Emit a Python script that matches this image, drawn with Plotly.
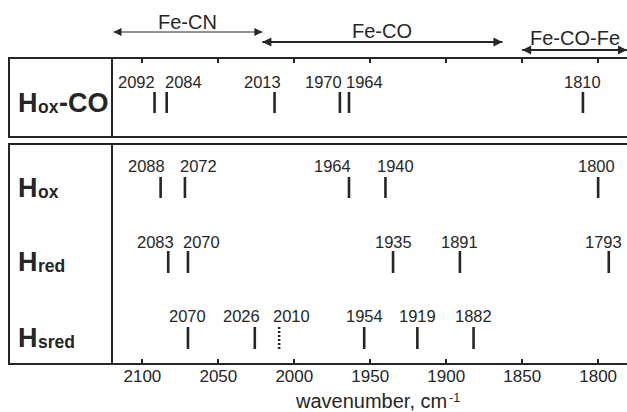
import plotly.graph_objects as go

# ---------------- data ----------------
hoxco_peaks = [2092, 2084, 2013, 1970, 1964, 1810]
hox_peaks = [2088, 2072, 1964, 1940, 1800]
hred_peaks = [2083, 2070, 1935, 1891, 1793]
hsred_peaks = [2070, 2026, 2010, 1954, 1919, 1882]
hsred_tentative = [False, False, True, False, False, False]

region_names = ["Fe-CN", "Fe-CO", "Fe-CO-Fe"]
region_start = [2119, 2021, 1850]
region_end = [2021, 1863, 1781]

tick_values = [2100, 2050, 2000, 1950, 1900, 1850, 1800]
x_range = [2120, 1781]

# ---------------- layout constants ----------------
W, H = 627, 412
ML, MR, MT, MB = 112, 0, 0, 48
PW = W - ML - MR
PH = H - MT - MB
TOP_TOP_PX = 58    # top of upper panel
TOP_BOT_PX = 137   # bottom of upper panel
BOT_TOP_PX = 144   # top of lower panel
AXIS_PX = H - MB   # bottom axis line

def xp(px):
    return (px - ML) / PW

def yp(py):
    return (H - MB - py) / PH

INK = "#262626"
FONT = "Liberation Sans, Arial, sans-serif"
MID = 0.3465  # text-box middle above baseline, in em

# bold advance widths (em) used to place label pieces side by side
BOLD_ADV = {"H": 0.722, "o": 0.611, "x": 0.556, "r": 0.389, "e": 0.556,
            "d": 0.611, "s": 0.556, "-": 0.333, "C": 0.722, "O": 0.778}

def bold_width(txt, size):
    return sum(BOLD_ADV[c] for c in txt) * size

rows = [
    dict(main="H", sub="ox", tail="-CO", peaks=hoxco_peaks, tent=[False] * len(hoxco_peaks),
         ax="y2", xa="x2", base=TOP_BOT_PX, y0=113, y1=92, ly=82,
         shifts=[-18, 17, -12, -16, 16, 0], baseline=112),
    dict(main="H", sub="ox", tail="", peaks=hox_peaks, tent=[False] * len(hox_peaks),
         ax="y", xa="x", base=AXIS_PX, y0=198, y1=177, ly=166,
         shifts=[-14, 14, -16, 10, -2], baseline=197),
    dict(main="H", sub="red", tail="", peaks=hred_peaks, tent=[False] * len(hred_peaks),
         ax="y", xa="x", base=AXIS_PX, y0=273, y1=251, ly=242,
         shifts=[-13, 14, 0, 0, -5], baseline=271),
    dict(main="H", sub="sred", tail="", peaks=hsred_peaks, tent=hsred_tentative,
         ax="y", xa="x", base=AXIS_PX, y0=349, y1=327, ly=316,
         shifts=[0, -13, 12, 0, 0, 0], baseline=347),
]

fig = go.Figure()
annotations = []

def text_ann(txt, px, py_mid, size, anchor="left", bold=False):
    return dict(x=xp(px), y=yp(py_mid), xref="paper", yref="paper",
                text=("<b>%s</b>" % txt) if bold else txt, showarrow=False,
                xanchor=anchor, yanchor="middle", borderpad=0,
                font=dict(family=FONT, size=size, color=INK))

MAIN_FS, SUB_FS = 27, 17.5
LABEL_X = 17
for r in rows:
    for dashed in (False, True):
        xs, ys = [], []
        for v, t in zip(r["peaks"], r["tent"]):
            if t != dashed:
                continue
            xs += [v, v, None]
            ys += [r["base"] - r["y0"], r["base"] - r["y1"], None]
        if xs:
            fig.add_trace(go.Scatter(
                x=xs, y=ys, mode="lines", xaxis=r["xa"], yaxis=r["ax"],
                line=dict(color=INK, width=2.6, dash="2px,2px" if dashed else "solid"),
                showlegend=False, hoverinfo="skip"))
    for v, s in zip(r["peaks"], r["shifts"]):
        annotations.append(dict(
            x=v, y=r["base"] - r["ly"], xref="x", yref=r["ax"], text=str(v),
            showarrow=False, xshift=s, xanchor="center", yanchor="middle",
            font=dict(family=FONT, size=16.5, color=INK)))
    bl = r["baseline"]
    x_sub = LABEL_X + bold_width(r["main"], MAIN_FS) + 0.5
    annotations.append(text_ann(r["main"], LABEL_X, bl - MID * MAIN_FS, MAIN_FS, bold=True))
    annotations.append(text_ann(r["sub"], x_sub, bl + 1 - MID * SUB_FS, SUB_FS, bold=True))
    if r["tail"]:
        x_tail = x_sub + bold_width(r["sub"], SUB_FS) + 0.5
        annotations.append(text_ann(r["tail"], x_tail, bl - MID * MAIN_FS, MAIN_FS, bold=True))

# region arrows (drawn in a strip axis above the upper panel)
arrow_py = [32, 42, 50]
arrow_w = [1.0, 1.8, 1.8]
head_size = [8, 9, 9]
text_py = [22, 31, 38]
for name, a, b, py, w, hs, tpy in zip(region_names, region_start, region_end,
                                       arrow_py, arrow_w, head_size, text_py):
    fig.add_trace(go.Scatter(
        x=[a, b], y=[TOP_TOP_PX - py, TOP_TOP_PX - py], xaxis="x3", yaxis="y3",
        mode="lines+markers", cliponaxis=False,
        line=dict(color=INK, width=w),
        marker=dict(symbol=["arrow-left", "arrow-right"], size=hs, color=INK,
                    line=dict(width=0)),
        showlegend=False, hoverinfo="skip"))
    annotations.append(dict(
        x=(a + b) / 2, y=TOP_TOP_PX - tpy, xref="x", yref="y3", text=name, showarrow=False,
        xanchor="center", yanchor="middle", font=dict(family=FONT, size=20, color=INK)))

# axis title: "wavenumber, cm" with raised "-1"
TITLE_FS, SUP_FS = 20, 12.5
title_main = "wavenumber, cm"
title_sup = "-1"
TITLE_END_X = 448
annotations.append(text_ann(title_main, TITLE_END_X, 408 - MID * TITLE_FS, TITLE_FS, anchor="right"))
annotations.append(text_ann(title_sup, TITLE_END_X + 0.3, 402 - MID * SUP_FS, SUP_FS))

# frames
shapes = []
LW = 2
for top_px, bot_px in [(TOP_TOP_PX, TOP_BOT_PX), (BOT_TOP_PX, AXIS_PX)]:
    shapes.append(dict(type="rect", xref="paper", yref="paper",
                       x0=xp(9), x1=1.05, y0=yp(bot_px), y1=yp(top_px),
                       line=dict(color=INK, width=LW), fillcolor="rgba(0,0,0,0)", layer="above"))
    shapes.append(dict(type="line", xref="paper", yref="paper",
                       x0=0, x1=0, y0=yp(bot_px), y1=yp(top_px),
                       line=dict(color=INK, width=LW), layer="above"))

fig.update_layout(
    width=W, height=H,
    margin=dict(l=ML, r=MR, t=MT, b=MB),
    paper_bgcolor="white", plot_bgcolor="white",
    showlegend=False,
    xaxis=dict(range=x_range, domain=[0, 1], anchor="y", tickmode="array", tickvals=tick_values,
               ticks="inside", ticklen=5, tickwidth=1.5, tickcolor=INK,
               tickfont=dict(family=FONT, size=17, color=INK),
               showline=False, showgrid=False, zeroline=False),
    xaxis2=dict(range=x_range, domain=[0, 1], anchor="y2", side="top", matches="x",
                tickmode="array", tickvals=tick_values,
                ticks="inside", ticklen=5, tickwidth=1.5, tickcolor=INK,
                showticklabels=False, showline=False, showgrid=False, zeroline=False),
    xaxis3=dict(range=x_range, domain=[0, 1], anchor="y3", matches="x", visible=False),
    yaxis=dict(domain=[0, yp(BOT_TOP_PX)], range=[0, AXIS_PX - BOT_TOP_PX], visible=False),
    yaxis2=dict(domain=[yp(TOP_BOT_PX), yp(TOP_TOP_PX)], range=[0, TOP_BOT_PX - TOP_TOP_PX],
                visible=False),
    yaxis3=dict(domain=[yp(TOP_TOP_PX), 1], range=[0, TOP_TOP_PX], visible=False),
    annotations=annotations,
    shapes=shapes,
)

fig.write_html("out.html")
